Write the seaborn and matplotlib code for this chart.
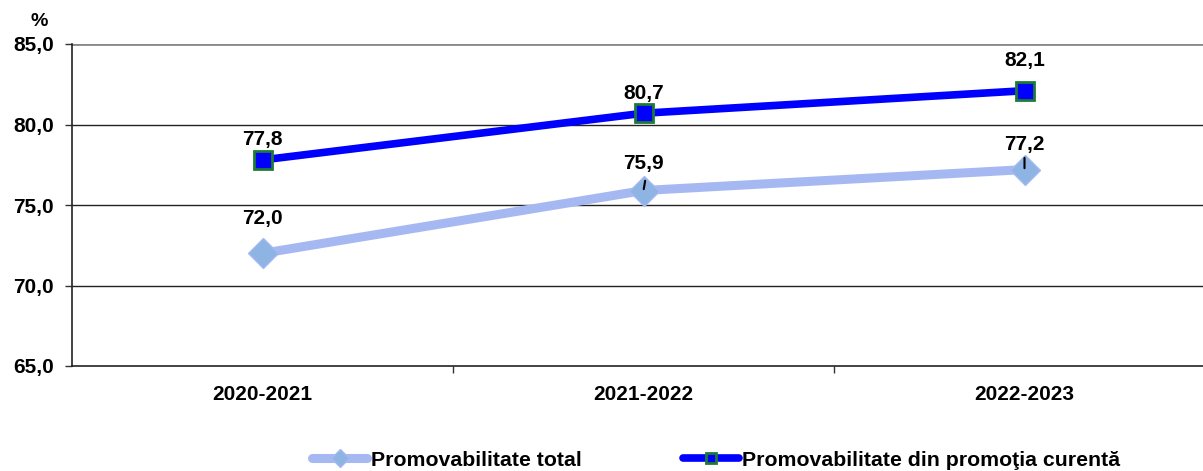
import matplotlib
matplotlib.use('Agg')
import pandas as pd
import seaborn as sns
from matplotlib import pyplot as plt
from matplotlib.ticker import FixedLocator

years = ['2020-2021', '2021-2022', '2022-2023']
total = [72.0, 75.9, 77.2]
curenta = [77.8, 80.7, 82.1]
label_total = 'Promovabilitate total'
label_curenta = 'Promovabilitate din promoţia curentă'

# label offsets above the marker, in points
off_total = [25, 19.5, 18]
off_curenta = [14.5, 14.5, 21.5]


def fmt(v):
    return f'{v:.1f}'.replace('.', ',')


def main():
    sns.set_style('white')
    plt.rcParams['font.family'] = ['Liberation Sans', 'DejaVu Sans']
    plt.rcParams['text.color'] = 'black'
    plt.rcParams['xtick.color'] = 'black'
    plt.rcParams['ytick.color'] = 'black'

    df = pd.DataFrame({'an': years * 2,
                       'val': total + curenta,
                       'serie': [label_total] * 3 + [label_curenta] * 3})

    fig = plt.figure(figsize=(12.03, 4.71), dpi=100)
    ax = fig.add_axes([72 / 1203, 1 - 366 / 471, (1215 - 72) / 1203, (366 - 44) / 471])

    sns.lineplot(data=df[df.serie == label_total], x='an', y='val', ax=ax,
                 color='#A6B8F2', lw=6.5, marker='D', markersize=15,
                 markerfacecolor='#8EB4E3', markeredgecolor='#A6B8F2', markeredgewidth=1,
                 label=label_total, sort=False)
    sns.lineplot(data=df[df.serie == label_curenta], x='an', y='val', ax=ax,
                 color='#0000FF', lw=5.5, marker='s', markersize=13,
                 markerfacecolor='#0000FF', markeredgecolor='#1E7B35', markeredgewidth=2,
                 label=label_curenta, sort=False)

    for i, v in enumerate(total):
        ax.annotate(fmt(v), (i, v), xytext=(0, off_total[i]), textcoords='offset points',
                    ha='center', va='center', fontsize=15, fontweight='bold')
    for i, v in enumerate(curenta):
        ax.annotate(fmt(v), (i, v), xytext=(0, off_curenta[i]), textcoords='offset points',
                    ha='center', va='center', fontsize=15, fontweight='bold')
    # small leader ticks under two of the labels
    for i, (dx, dy) in zip([1, 2], [(1.2, 7), (0, 8.5)]):
        ax.annotate('', (i, total[i]), xytext=(dx, dy), textcoords='offset points',
                    arrowprops=dict(arrowstyle='-', color='black', lw=1.5, shrinkA=0, shrinkB=1))

    ax.set_xlim(-0.5, 2.5)
    ax.set_ylim(65, 85)
    ax.set_yticks([65, 70, 75, 80, 85])
    ax.set_yticklabels([fmt(v) for v in [65, 70, 75, 80, 85]], fontsize=15, fontweight='bold')
    ax.set_xticks(range(3))
    ax.set_xticklabels(years, fontsize=15, fontweight='bold')
    ax.xaxis.set_minor_locator(FixedLocator([0.5, 1.5]))
    ax.tick_params(axis='x', which='major', length=0, pad=14)
    ax.tick_params(axis='x', which='minor', length=5, width=1, color='#333333', direction='out', bottom=True)
    ax.tick_params(axis='y', length=5, width=1, color='#333333', direction='out', left=True, pad=8)
    ax.set_xlabel('')
    ax.set_ylabel('')

    for y in [70, 75, 80]:
        ax.axhline(y, color='#222222', lw=1, zorder=0)
    ax.axhline(85, color='#888888', lw=2, zorder=0)

    for s in ['top', 'right']:
        ax.spines[s].set_visible(False)
    for s in ['left', 'bottom']:
        ax.spines[s].set_color('#222222')
        ax.spines[s].set_linewidth(1.2)

    fig.text(39 / 1203, 1 - 22 / 471, '%', ha='center', va='center', fontsize=14, fontweight='bold')

    handles, labels = ax.get_legend_handles_labels()
    ax.legend(handles, labels, loc='center', bbox_to_anchor=(716 / 1203, 1 - 460 / 471),
              bbox_transform=fig.transFigure, ncol=2, frameon=False,
              prop={'weight': 'bold', 'size': 15.3}, handlelength=2.6, handletextpad=0.15,
              columnspacing=4.8, markerscale=0.6, borderaxespad=0, borderpad=0)

    fig.savefig('out.png', dpi=100)


if __name__ == '__main__':
    main()
